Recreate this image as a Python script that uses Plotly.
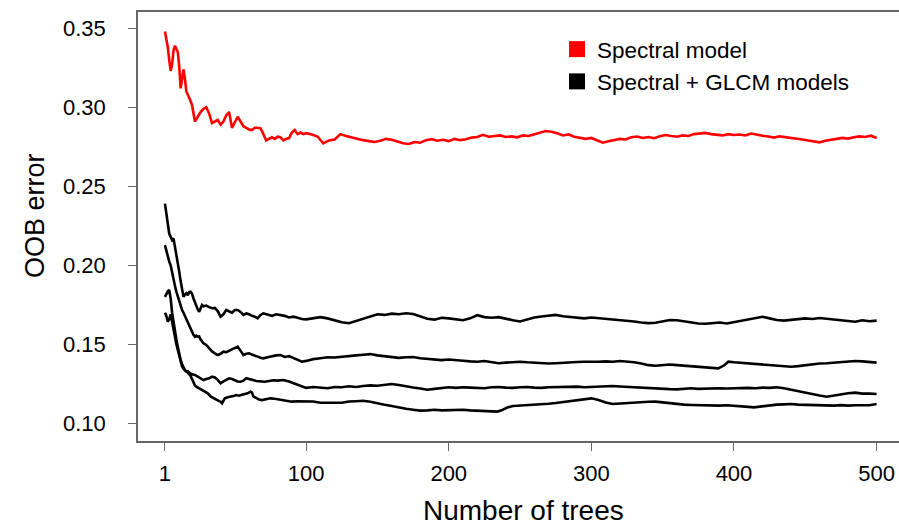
import plotly.graph_objects as go

# ---- data ----
# Spectral model (red)
red_t_early = [1,2,3,4,5,6,7,8,9,10,11,12,13,14,15,16,18,20,22,24,26,28,30,32,34,36,38,40,42,44,46,48,50,52,54,56,58,60,62,64,66,68,70,72,74,76,78,80,82,84,86,88,90,92,94,96,98]
red_v_early = [0.348,0.344,0.338,0.330,0.323,0.327,0.336,0.339,0.337,0.335,0.326,0.312,0.318,0.324,0.318,0.310,0.306,0.3015,0.291,0.294,0.297,0.299,0.300,0.296,0.290,0.291,0.292,0.289,0.291,0.295,0.297,0.287,0.291,0.294,0.291,0.288,0.287,0.286,0.2856,0.287,0.287,0.2867,0.283,0.279,0.280,0.281,0.280,0.2814,0.281,0.279,0.280,0.2805,0.284,0.2856,0.283,0.284,0.283]
red_t_late = [100,104,108,112,116,120,124,128,132,136,140,144,148,152,156,160,164,168,172,176,180,184,188,192,196,200,204,208,212,216,220,224,228,232,236,240,244,248,252,256,260,264,268,272,276,280,284,288,292,296,300,304,308,312,316,320,324,328,332,336,340,344,348,352,356,360,364,368,372,376,380,384,388,392,396,400,404,408,412,416,420,424,428,432,436,440,444,448,452,456,460,464,468,472,476,480,484,488,492,496,500]
red_v_late = [0.2836,0.2828,0.2815,0.2772,0.2790,0.2796,0.2830,0.2818,0.2808,0.2800,0.2792,0.2786,0.2780,0.2788,0.2800,0.2794,0.2782,0.2772,0.2768,0.2780,0.2776,0.2792,0.2798,0.2788,0.2794,0.2786,0.2800,0.2792,0.2798,0.2808,0.2812,0.2826,0.2814,0.2818,0.2822,0.2812,0.2816,0.2810,0.2822,0.2818,0.2830,0.2838,0.2850,0.2845,0.2836,0.2822,0.2828,0.2814,0.2808,0.2800,0.2806,0.2792,0.2776,0.2785,0.2792,0.2800,0.2796,0.2810,0.2815,0.2806,0.2812,0.2804,0.2816,0.2824,0.2818,0.2814,0.2822,0.2818,0.2830,0.2834,0.2838,0.2830,0.2826,0.2822,0.2830,0.2825,0.2828,0.2822,0.2834,0.2826,0.2820,0.2815,0.2808,0.2816,0.2812,0.2804,0.2800,0.2796,0.2790,0.2784,0.2778,0.2788,0.2796,0.2800,0.2806,0.2802,0.2810,0.2816,0.2812,0.2820,0.2806]

# Spectral + GLCM models (black), four runs
a_t_early = [1,2,3,4,5,6,7,8,9,10,11,12,13,14,15,16,17,18,19,20,21,22,23,24,25,26,27,28,30,32,34,36,38,40,42,44,46,48,50,52,54,56,58,60,62,64,66,68,70,73,76,79,82,85,88,91,94,97]
a_v_early = [0.2390,0.2330,0.2244,0.2200,0.2180,0.2160,0.2170,0.2120,0.2060,0.2033,0.1960,0.1900,0.1850,0.1800,0.1815,0.1823,0.1810,0.1830,0.1833,0.1820,0.1790,0.1765,0.1749,0.1720,0.1706,0.1730,0.1749,0.1740,0.1745,0.1735,0.1728,0.1730,0.1710,0.1675,0.1690,0.1717,0.1710,0.1700,0.1717,0.1717,0.1705,0.1686,0.1695,0.1690,0.1680,0.1675,0.1665,0.1686,0.1696,0.1690,0.1680,0.1690,0.1686,0.1680,0.1670,0.1675,0.1668,0.1660]
a_t_late = [100,105,110,115,120,125,130,135,140,145,150,155,160,165,170,175,180,185,190,195,200,205,210,215,220,225,230,235,240,245,250,255,260,265,270,275,280,285,290,295,300,305,310,315,320,325,330,335,340,345,350,355,360,365,370,375,380,385,390,395,400,405,410,415,420,425,430,435,440,445,450,455,460,465,470,475,480,485,490,495,500]
a_v_late = [0.1658,0.1666,0.1672,0.1664,0.1650,0.1640,0.1633,0.1648,0.1664,0.1678,0.1690,0.1686,0.1694,0.1690,0.1696,0.1692,0.1678,0.1662,0.1656,0.1668,0.1664,0.1660,0.1652,0.1664,0.1684,0.1672,0.1668,0.1672,0.1660,0.1652,0.1644,0.1658,0.1670,0.1676,0.1682,0.1686,0.1678,0.1674,0.1666,0.1664,0.1670,0.1666,0.1664,0.1660,0.1654,0.1650,0.1644,0.1638,0.1634,0.1636,0.1646,0.1654,0.1652,0.1644,0.1636,0.1632,0.1630,0.1634,0.1638,0.1632,0.1640,0.1648,0.1660,0.1668,0.1674,0.1664,0.1654,0.1650,0.1656,0.1660,0.1664,0.1660,0.1666,0.1662,0.1658,0.1654,0.1650,0.1643,0.1652,0.1646,0.1650]

b_t_early = [1,2,3,4,5,6,7,8,9,10,11,12,13,14,15,16,17,18,19,20,21,22,23,24,25,26,27,28,30,32,34,36,38,40,42,44,46,48,50,52,54,56,58,60,62,64,66,68,70,73,76,79,82,85,88,91,94,97]
b_v_early = [0.2128,0.2090,0.2050,0.2023,0.2000,0.1950,0.1920,0.1870,0.1833,0.1800,0.1770,0.1745,0.1717,0.1700,0.1680,0.1654,0.1640,0.1620,0.1601,0.1580,0.1560,0.1548,0.1555,0.1548,0.1550,0.1530,0.1515,0.1506,0.1496,0.1475,0.1455,0.1443,0.1432,0.1440,0.1453,0.1450,0.1460,0.1470,0.1478,0.1485,0.1460,0.1432,0.1440,0.1443,0.1435,0.1430,0.1422,0.1415,0.1411,0.1418,0.1425,0.1430,0.1432,0.1420,0.1425,0.1415,0.1400,0.1390]
b_t_late = [100,105,110,115,120,125,130,135,140,145,150,155,160,165,170,175,180,185,190,195,200,205,210,215,220,225,230,235,240,245,250,255,260,265,270,275,280,285,290,295,300,305,310,315,320,325,330,335,340,345,350,355,360,365,370,375,380,385,389,393,396,400,405,410,415,420,425,430,435,440,445,450,455,460,465,470,475,480,485,490,495,500]
b_v_late = [0.1395,0.1406,0.1412,0.1418,0.1416,0.1422,0.1424,0.1430,0.1434,0.1438,0.1430,0.1426,0.1420,0.1414,0.1418,0.1420,0.1412,0.1408,0.1402,0.1400,0.1404,0.1398,0.1396,0.1392,0.1390,0.1394,0.1386,0.1380,0.1384,0.1388,0.1390,0.1386,0.1382,0.1380,0.1378,0.1380,0.1384,0.1386,0.1388,0.1390,0.1388,0.1390,0.1392,0.1390,0.1394,0.1392,0.1386,0.1378,0.1368,0.1364,0.1370,0.1372,0.1368,0.1364,0.1360,0.1358,0.1356,0.1350,0.1348,0.1366,0.1390,0.1386,0.1382,0.1378,0.1374,0.1372,0.1368,0.1364,0.1360,0.1358,0.1362,0.1368,0.1374,0.1378,0.1380,0.1384,0.1388,0.1390,0.1394,0.1392,0.1386,0.1384]

c_t_early = [1,2,3,4,5,6,7,8,9,10,11,12,13,14,15,16,17,18,20,22,24,26,28,30,32,34,36,38,40,42,44,46,48,50,52,54,56,58,60,62,65,68,71,74,77,80,84,88,92,96]
c_v_early = [0.1800,0.1820,0.1835,0.1844,0.1790,0.1700,0.1633,0.1580,0.1530,0.1485,0.1440,0.1400,0.1375,0.1348,0.1335,0.1327,0.1330,0.1320,0.1310,0.1306,0.1295,0.1285,0.1274,0.1280,0.1285,0.1295,0.1290,0.1275,0.1253,0.1265,0.1275,0.1285,0.1280,0.1270,0.1265,0.1263,0.1270,0.1285,0.1282,0.1275,0.1268,0.1265,0.1263,0.1268,0.1272,0.1270,0.1274,0.1265,0.1250,0.1235]
c_t_late = [100,105,110,115,120,125,130,135,140,145,150,155,160,165,170,175,180,185,190,195,200,205,210,215,220,225,230,235,240,245,250,255,260,265,270,275,280,285,290,295,300,305,310,315,320,325,330,335,340,345,350,355,360,365,370,375,380,385,390,395,400,405,410,415,420,425,430,435,440,445,450,455,460,465,470,475,480,485,490,495,500]
c_v_late = [0.1224,0.1230,0.1228,0.1222,0.1230,0.1228,0.1234,0.1230,0.1236,0.1240,0.1238,0.1244,0.1249,0.1242,0.1232,0.1226,0.1220,0.1212,0.1218,0.1224,0.1228,0.1224,0.1228,0.1226,0.1224,0.1222,0.1228,0.1230,0.1226,0.1224,0.1228,0.1230,0.1226,0.1224,0.1228,0.1230,0.1232,0.1230,0.1232,0.1228,0.1230,0.1232,0.1234,0.1236,0.1233,0.1230,0.1228,0.1226,0.1224,0.1220,0.1218,0.1216,0.1215,0.1220,0.1222,0.1218,0.1220,0.1224,0.1222,0.1220,0.1222,0.1220,0.1224,0.1222,0.1226,0.1224,0.1228,0.1222,0.1212,0.1204,0.1194,0.1184,0.1176,0.1168,0.1176,0.1184,0.1190,0.1194,0.1188,0.1188,0.1185]

d_t_early = [1,2,3,4,5,6,7,8,9,10,11,12,13,14,15,16,17,18,19,20,21,22,23,25,27,29,31,33,35,37,39,40,41,42,43,45,47,49,51,53,55,57,59,61,62,63,65,67,69,72,75,78,81,84,87,90,94,98]
d_v_early = [0.1700,0.1680,0.1643,0.1660,0.1690,0.1650,0.1600,0.1550,0.1500,0.1460,0.1420,0.1390,0.1360,0.1345,0.1340,0.1330,0.1320,0.1310,0.1300,0.1280,0.1260,0.1240,0.1232,0.1222,0.1211,0.1200,0.1190,0.1170,0.1158,0.1150,0.1140,0.1137,0.1127,0.1140,0.1158,0.1165,0.1168,0.1172,0.1179,0.1175,0.1180,0.1185,0.1190,0.1200,0.1195,0.1170,0.1158,0.1150,0.1147,0.1152,0.1158,0.1155,0.1150,0.1145,0.1140,0.1137,0.1140,0.1138]
d_t_late = [100,105,110,115,120,125,130,135,140,145,150,155,160,165,170,175,180,185,190,195,200,205,210,215,220,225,230,234,237,241,245,250,255,260,265,270,275,280,285,290,295,300,305,310,315,320,325,330,335,340,345,350,355,360,365,370,375,380,385,390,395,400,405,410,414,420,425,430,435,440,445,450,455,460,465,470,475,480,485,490,495,500]
d_v_late = [0.1136,0.1138,0.1130,0.1128,0.1130,0.1130,0.1138,0.1140,0.1143,0.1136,0.1125,0.1118,0.1110,0.1100,0.1092,0.1086,0.1080,0.1082,0.1086,0.1082,0.1084,0.1082,0.1086,0.1082,0.1080,0.1078,0.1076,0.1074,0.1082,0.1100,0.1110,0.1112,0.1114,0.1118,0.1122,0.1124,0.1128,0.1134,0.1144,0.1150,0.1156,0.1158,0.1148,0.1132,0.1122,0.1125,0.1130,0.1132,0.1134,0.1136,0.1137,0.1132,0.1126,0.1120,0.1118,0.1116,0.1114,0.1112,0.1110,0.1112,0.1114,0.1112,0.1108,0.1104,0.1101,0.1108,0.1114,0.1118,0.1120,0.1122,0.1118,0.1116,0.1118,0.1116,0.1114,0.1112,0.1115,0.1112,0.1114,0.1112,0.1114,0.1122]

legend_labels = ["Spectral model", "Spectral + GLCM models"]
x_ticks = [1, 100, 200, 300, 400, 500]
y_ticks = [0.10, 0.15, 0.20, 0.25, 0.30, 0.35]
x_title = "Number of trees"
y_title = "OOB error"

FONT = "Liberation Sans, Arial, sans-serif"
LW = 2.6

fig = go.Figure()
fig.add_trace(go.Scatter(x=red_t_early + red_t_late, y=red_v_early + red_v_late, mode="lines",
                         line=dict(color="#FF0000", width=LW), showlegend=False))
black_runs = [
    (a_t_early + a_t_late, a_v_early + a_v_late),
    (b_t_early + b_t_late, b_v_early + b_v_late),
    (c_t_early + c_t_late, c_v_early + c_v_late),
    (d_t_early + d_t_late, d_v_early + d_v_late),
]
for tt, vv in black_runs:
    fig.add_trace(go.Scatter(x=tt, y=vv, mode="lines", line=dict(color="#000000", width=LW), showlegend=False))

# legend entries (square keys)
fig.add_trace(go.Scatter(x=[None], y=[None], mode="markers", name=legend_labels[0],
                         marker=dict(symbol="square", color="#FF0000", size=16)))
fig.add_trace(go.Scatter(x=[None], y=[None], mode="markers", name=legend_labels[1],
                         marker=dict(symbol="square", color="#000000", size=16)))

axis_common = dict(showline=True, linecolor="#666666", linewidth=1.5, ticks="outside",
                   ticklen=8, tickwidth=1.3, tickcolor="#666666", showgrid=False, zeroline=False,
                   tickfont=dict(family=FONT, size=22, color="#000000"))

fig.update_xaxes(range=[-17.9, 515.7], tickvals=x_ticks, ticktext=[str(v) for v in x_ticks],
                 mirror=True, ticklabelstandoff=4, **axis_common)
fig.update_yaxes(range=[0.0888, 0.3603], tickvals=y_ticks, ticktext=["%.2f" % v for v in y_ticks],
                 mirror=False, ticklabelstandoff=18, **axis_common)

fig.add_annotation(text=x_title, xref="paper", yref="paper", x=(523 - 138) / 761, y=(441 - 510) / 429,
                   xanchor="center", yanchor="middle", showarrow=False,
                   font=dict(family=FONT, size=28, color="#000000"))
fig.add_annotation(text=y_title, xref="paper", yref="paper", x=(35 - 138) / 761, y=(441 - 216) / 429,
                   xanchor="center", yanchor="middle", showarrow=False, textangle=-90,
                   font=dict(family=FONT, size=27, color="#000000"))

fig.update_layout(
    width=899, height=525,
    margin=dict(l=138, r=0, t=12, b=84),
    plot_bgcolor="white", paper_bgcolor="white",
    legend=dict(x=(557 - 138) / 761, y=(441 - 28) / 429, xanchor="left", yanchor="top",
                bgcolor="rgba(0,0,0,0)", font=dict(family=FONT, size=22.5, color="#000000"),
                itemsizing="trace", tracegroupgap=0),
)

fig.write_html("out.html")
